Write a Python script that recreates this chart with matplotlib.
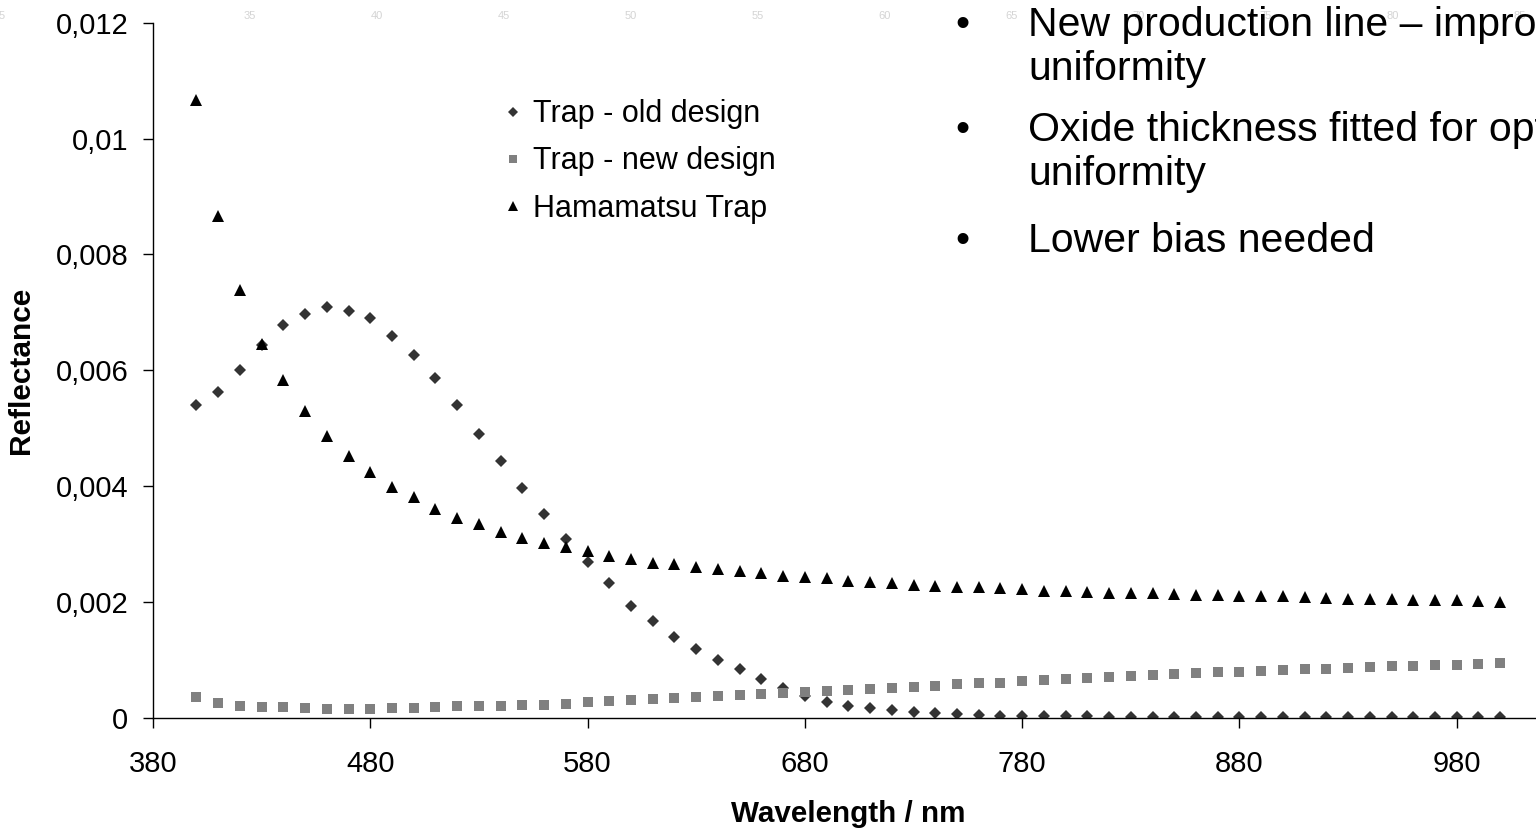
import numpy as np
import matplotlib
matplotlib.use('Agg')
import matplotlib.pyplot as plt
from matplotlib.ticker import FuncFormatter, MultipleLocator

plt.rcParams['font.family'] = ['Liberation Sans', 'DejaVu Sans']

wavelength = list(range(400, 1001, 10))

trap_old = [0.00540, 0.00562, 0.00600, 0.00643, 0.00679, 0.00698, 0.00709, 0.00703, 0.00690, 0.00660,
            0.00626, 0.00586, 0.00540, 0.00491, 0.00443, 0.00397, 0.00352, 0.00309, 0.00269, 0.00233,
            0.00194, 0.00167, 0.00140, 0.00119, 0.00100, 0.00084, 0.00067, 0.00052, 0.00038, 0.00028,
            0.00021, 0.00017, 0.00013, 0.00010, 0.00008, 0.00007, 0.00005, 0.00004, 0.00004, 0.00003,
            0.00003, 0.00003, 0.00002, 0.00002, 0.00002, 0.00002, 0.00002, 0.00002, 0.00001, 0.00001,
            0.00001, 0.00001, 0.00001, 0.00001, 0.00001, 0.00001, 0.00001, 0.00001, 0.00001, 0.00001,
            0.00001]

trap_new = [0.00036, 0.00026, 0.00021, 0.00019, 0.00019, 0.00017, 0.00016, 0.00016, 0.00016, 0.00018,
            0.00018, 0.00019, 0.00020, 0.00020, 0.00021, 0.00022, 0.00023, 0.00025, 0.00027, 0.00029,
            0.00031, 0.00033, 0.00035, 0.00037, 0.00038, 0.00040, 0.00042, 0.00043, 0.00045, 0.00047,
            0.00049, 0.00050, 0.00052, 0.00054, 0.00056, 0.00058, 0.00060, 0.00061, 0.00063, 0.00065,
            0.00067, 0.00069, 0.00070, 0.00072, 0.00074, 0.00076, 0.00077, 0.00079, 0.00080, 0.00081,
            0.00083, 0.00084, 0.00085, 0.00086, 0.00088, 0.00089, 0.00090, 0.00091, 0.00092, 0.00093,
            0.00095]

hamamatsu = [0.01066, 0.00866, 0.00738, 0.00645, 0.00583, 0.00529, 0.00486, 0.00452, 0.00424, 0.00398,
             0.00381, 0.00360, 0.00345, 0.00334, 0.00321, 0.00310, 0.00302, 0.00295, 0.00288, 0.00279,
             0.00274, 0.00268, 0.00265, 0.00260, 0.00257, 0.00254, 0.00250, 0.00245, 0.00243, 0.00241,
             0.00237, 0.00234, 0.00233, 0.00230, 0.00227, 0.00226, 0.00226, 0.00225, 0.00222, 0.00220,
             0.00219, 0.00218, 0.00216, 0.00216, 0.00215, 0.00214, 0.00213, 0.00212, 0.00211, 0.00210,
             0.00210, 0.00208, 0.00207, 0.00206, 0.00205, 0.00205, 0.00204, 0.00204, 0.00203, 0.00202,
             0.00200]

series_labels = ['Trap - old design', 'Trap - new design', 'Hamamatsu Trap']

bullets = [['New production line \u2013 improved', 'uniformity'],
           ['Oxide thickness fitted for optimal', 'uniformity'],
           ['Lower bias needed']]

ruler_labels = ['5', '35', '40', '45', '50', '55', '60', '65', '70', '75', '80', '85']

W, H = 1536, 831
fig = plt.figure(figsize=(W / 100, H / 100), dpi=100)

# axis runs off the right edge like the slide crop
ax = fig.add_axes([153 / W, 113 / H, 1521 / W, 695.3 / H])

ax.plot(wavelength, trap_old, linestyle='none', marker='D', ms=6.3, color='#333333',
        markeredgewidth=0, label=series_labels[0])
ax.plot(wavelength, trap_new, linestyle='none', marker='s', ms=7.2, color='#808080',
        markeredgewidth=0, label=series_labels[1])
ax.plot(wavelength, hamamatsu, linestyle='none', marker='^', ms=8.6, color='black',
        markeredgewidth=0, label=series_labels[2])

ax.set_xlim(380, 1080)
ax.set_ylim(0, 0.012)
ax.set_xticks(range(380, 981, 100))
ax.yaxis.set_major_locator(MultipleLocator(0.002))
ax.yaxis.set_major_formatter(FuncFormatter(lambda v, p: ('%g' % round(v, 4)).replace('.', ',')))

for s in ['top', 'right']:
    ax.spines[s].set_visible(False)
for s in ['left', 'bottom']:
    ax.spines[s].set_linewidth(1.0)
    ax.spines[s].set_color('black')
ax.tick_params(axis='both', direction='out', length=7.2, width=1, labelsize=21, colors='black')
ax.tick_params(axis='x', pad=16)
ax.tick_params(axis='y', pad=10.5)

ax.set_ylabel('Reflectance', fontsize=21.5, fontweight='bold')
ax.yaxis.set_label_coords(-(153 - 35) / 1521, 0.5)
ax.set_xlabel('Wavelength / nm', fontsize=21.3, fontweight='bold')
ax.xaxis.set_label_coords((848 - 153) / 1521, -(800 - 718) / 695.3)

fig.legend(loc='upper left', bbox_to_anchor=(489 / W, 1 - 84 / H),
           frameon=False, fontsize=22, handlelength=0.6, handletextpad=0.35, labelspacing=0.56,
           borderpad=0, markerscale=0.85)

# bullet text block from the slide
baselines = [[36, 80], [141, 185], [252]]
for lines, bl in zip(bullets, baselines):
    fig.text(962 / W, 1 - (bl[0] - 11) / H, '\u2022', fontsize=29, ha='center', va='center')
    for line, y in zip(lines, bl):
        fig.text(1028 / W, 1 - y / H, line, fontsize=29.5, ha='left', va='baseline')

# faint slide ruler along the top edge
for i, lab in enumerate(ruler_labels):
    xpos = 2 if i == 0 else 250 + (i - 1) * 127
    fig.text(xpos / W, 1 - 16 / H, lab, fontsize=8, color='#d4d4d4', ha='center', va='center',
             zorder=0)

fig.savefig('out.png', dpi=100)
